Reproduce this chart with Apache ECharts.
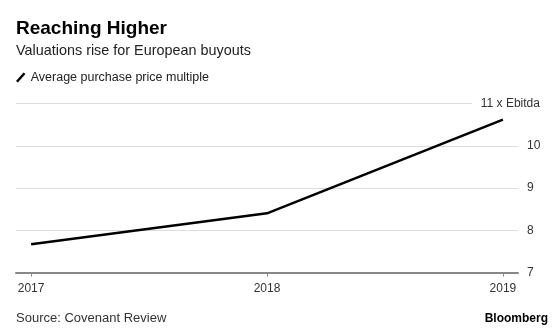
<!DOCTYPE html>
<html><head><meta charset="utf-8">
<script src="https://cdn.jsdelivr.net/npm/echarts@6/dist/echarts.min.js"></script>
<style>html,body{margin:0;padding:0;background:#fff}#c{width:560px;height:331px}</style>
</head><body><div id="c"></div>
<script>
var years = [2017, 2018, 2019];
var multiples = [7.67, 8.40, 10.62];
var yTicks = [7, 8, 9, 10, 11];
var gridValues = [8, 9, 10];
var topValue = 11;
var topLabel = '11 x Ebitda';
var seriesName = 'Average purchase price multiple';

var FONT = '"Liberation Sans", Arial, Helvetica, sans-serif';
var xMin = 2016.936, xMax = 2019.064;
var chart = echarts.init(document.getElementById('c'));
var gl = { color: '#dcdcdc', width: 1, type: 'solid' };
var marks = gridValues.map(function (v) { return { yAxis: v, lineStyle: gl, label: { show: false } }; });
marks.push([
  { coord: [xMin, topValue], lineStyle: gl },
  { coord: [2018.868, topValue], label: { show: true, position: 'end', formatter: topLabel, distance: 9, color: '#333', fontFamily: FONT, fontSize: 12 } }
]);
chart.setOption({
  animation: false,
  title: [
    { text: 'Reaching Higher', left: 11, top: 14, textStyle: { fontFamily: FONT, fontSize: 19, fontWeight: 'bold', color: '#000' } },
    { text: 'Valuations rise for European buyouts', left: 11, top: 39, textStyle: { fontFamily: FONT, fontSize: 14.4, fontWeight: 'normal', color: '#222' } },
    { text: 'Source: Covenant Review', left: 11, top: 307, textStyle: { fontFamily: FONT, fontSize: 13, fontWeight: 'normal', color: '#333' } },
    { text: 'Bloomberg', right: 7, top: 308, textStyle: { fontFamily: FONT, fontSize: 12, fontWeight: 'bold', color: '#000' } }
  ],
  legend: {
    left: 11, top: 66, itemWidth: 10, itemHeight: 10,
    icon: 'path://M0,9 L8,0 L10,1.6 L2,10.6 Z',
    textStyle: { fontFamily: FONT, fontSize: 12.5, color: '#222' },
    data: [{ name: seriesName, itemStyle: { color: '#000' } }]
  },
  grid: { left: 16, right: 42, top: 103.5, bottom: 58.5 },
  xAxis: {
    type: 'value', min: xMin, max: xMax,
    axisLine: { lineStyle: { color: '#888', width: 2 } },
    axisTick: { show: true, customValues: years, length: 4, lineStyle: { color: '#888' } },
    axisLabel: { customValues: years, margin: 10, formatter: function (v) { return String(v); }, fontFamily: FONT, fontSize: 12, color: '#333' },
    splitLine: { show: false }
  },
  yAxis: {
    type: 'value', position: 'right', min: yTicks[0], max: yTicks[yTicks.length - 1], interval: 1,
    axisLine: { show: false }, axisTick: { show: false }, splitLine: { show: false },
    axisLabel: { margin: 9, fontFamily: FONT, fontSize: 12, color: '#333', formatter: function (v) { return v === topValue ? '' : String(v); } }
  },
  series: [
    { type: 'line', name: 'grid', data: [], z: 1, silent: true,
      markLine: { silent: true, symbol: 'none', data: marks } },
    { type: 'line', name: seriesName, z: 5, showSymbol: false, symbol: 'none',
      lineStyle: { color: '#000', width: 2.5 }, itemStyle: { color: '#000' },
      data: years.map(function (y, i) { return [y, multiples[i]]; }) }
  ]
});
</script></body></html>
